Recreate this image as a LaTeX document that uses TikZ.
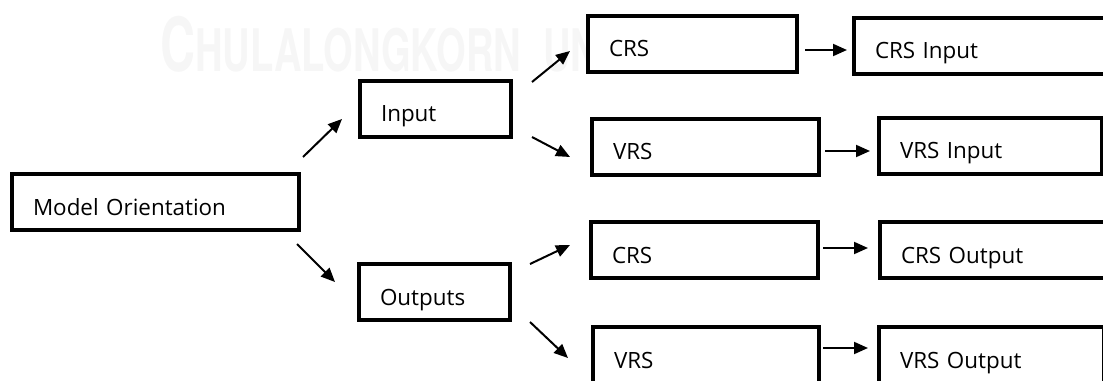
\documentclass[tikz,border=0pt]{standalone}
\usepackage{fontspec}
\setmainfont{Open Sans}
\newfontfamily\markfont{TeX Gyre Heros}
\usetikzlibrary{arrows.meta}
\newdimen\px
\px=0.75pt
\definecolor{boxline}{HTML}{000000}
\definecolor{markgray}{HTML}{F6F6F6}
\tikzset{
  flowbox/.style={draw=boxline, fill=white, line width=2.7pt, outer sep=0pt,
                  anchor=north west, inner xsep=21\px, inner ysep=0pt,
                  text height=41\px, text depth=15\px, text width=#1,
                  align=left, font=\fontsize{16.8}{20}\selectfont},
  link/.style={-{Triangle[length=10.5pt,width=9pt]}, line width=1.5pt, draw=boxline},
  wmark/.style={text=markgray, inner sep=0pt, anchor=base west,
                font=\markfont\bfseries},
}

\begin{document}
\begin{tikzpicture}[x=0.75pt, y=-0.75pt]
    \useasboundingbox (0,0) rectangle (1103,381);
    \clip (0,0) rectangle (1103,381);
    \node[wmark] (wm) at (160,72) {\scalebox{0.65}[1]{\fontsize{56}{56}\selectfont C\fontsize{44}{44}\selectfont HULALONGKORN\hspace{0.3em} UNIVERSITY}};
    \node[flowbox=245\px] (model) at (12,174) {Model Orientation};
    \node[flowbox=109\px] (input) at (360,81) {Input};
    \node[flowbox=109\px] (output) at (359,264) {Outputs};
    \node[flowbox=167\px] (incrs) at (588,16) {CRS};
    \node[flowbox=185\px] (invrs) at (592,119) {VRS};
    \node[flowbox=185\px] (outcrs) at (591,222) {CRS};
    \node[flowbox=184\px] (outvrs) at (593,327) {VRS};
    \node[flowbox=210\px] (crsinput) at (854,18) {CRS Input};
    \node[flowbox=181\px] (vrsinput) at (879,118) {VRS Input};
    \node[flowbox=184\px] (crsoutput) at (880,222) {CRS Output};
    \node[flowbox=183\px] (vrsoutput) at (879,327) {VRS Output};
    \draw[link] ([shift={(4,-17)}]model.north east) -- ([shift={(-18,-18)}]input.south west);
    \draw[link] ([shift={(-2,14)}]model.south east) -- ([shift={(-24,18)}]output.north west);
    \draw[link] ([shift={(21,1)}]input.north east) -- ([shift={(-18,-21)}]incrs.south west);
    \draw[link] ([shift={(21,0)}]input.south east) -- ([shift={(-22,10)}]invrs.west);
    \draw[link] ([shift={(20,0)}]output.north east) -- ([shift={(-21,-5)}]outcrs.west);
    \draw[link] ([shift={(20,2)}]output.south east) -- ([shift={(-25,3)}]outvrs.west);
    \draw[link] ([shift={(8,6)}]incrs.east) -- ([shift={(-7,4)}]crsinput.west);
    \draw[link] ([shift={(6,4)}]invrs.east) -- ([shift={(-9,5)}]vrsinput.west);
    \draw[link] ([shift={(5,-2)}]outcrs.east) -- ([shift={(-12,-2)}]crsoutput.west);
    \draw[link] ([shift={(4,-7)}]outvrs.east) -- ([shift={(-11,-7)}]vrsoutput.west);
\end{tikzpicture}
\end{document}
